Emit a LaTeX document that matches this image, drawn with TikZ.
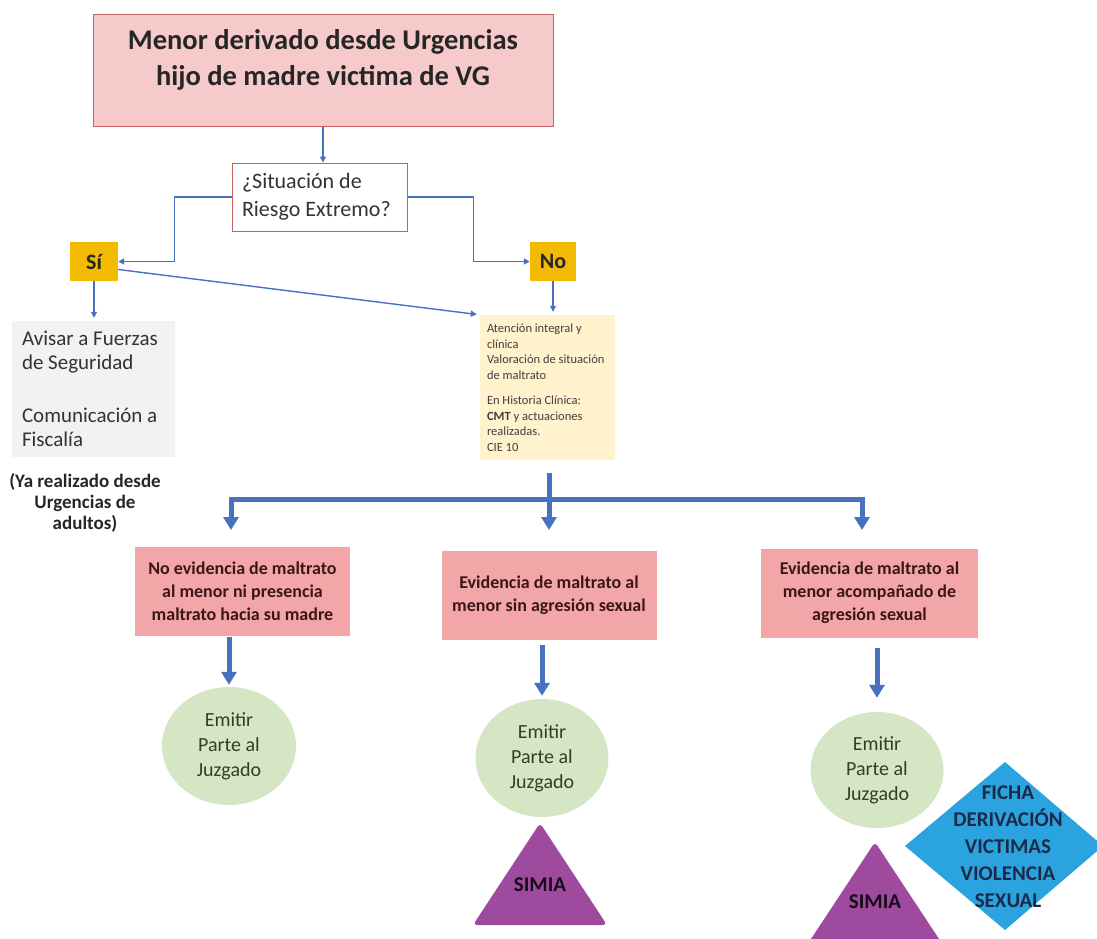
\documentclass[tikz,border=0pt]{standalone}
\usepackage{fontspec}
\setmainfont{Carlito}
\usepackage{tikz}
\usetikzlibrary{arrows.meta}
\usetikzlibrary{calc,shapes.geometric}
\usepackage{xcolor}
\definecolor{LinkBlue}{RGB}{70,114,192}
\definecolor{TitlePink}{RGB}{246,202,202}
\definecolor{TitleEdge}{RGB}{196,96,96}
\definecolor{CasePink}{RGB}{242,166,168}
\definecolor{AnswerAmber}{RGB}{242,186,0}
\definecolor{NoteGray}{RGB}{242,242,242}
\definecolor{CareYellow}{RGB}{255,242,204}
\definecolor{ResultGreen}{RGB}{212,230,196}
\definecolor{SimiaPurple}{RGB}{158,74,158}
\definecolor{FichaBlue}{RGB}{43,163,223}
\definecolor{CaseInk}{RGB}{60,22,22}
\definecolor{GreenInk}{RGB}{50,62,42}
\definecolor{NavyInk}{RGB}{28,42,74}
\tikzset{
	link/.style={LinkBlue, line width=1.4pt},
	thinarrow/.style={link, -{Triangle[length=6pt,width=6pt]}},
	bigline/.style={LinkBlue, line width=5pt},
	bigarrow/.style={bigline, -{Triangle[length=13pt,width=15pt]}},
	titlebox/.style={draw=TitleEdge, line width=1pt, fill=TitlePink, minimum width=460pt, minimum height=112pt},
	titletext/.style={align=center, text=black!85, font=\fontsize{28.5}{36}\selectfont\bfseries},
	askbox/.style={draw=TitleEdge, line width=1pt, fill=white, text width=155pt, inner xsep=10pt, minimum height=68pt, align=flush left, text=black!80, font=\fontsize{22}{28}\selectfont},
	answer/.style={fill=AnswerAmber, minimum width=48pt, minimum height=39pt, inner sep=0pt, text=black!85, font=\fontsize{22}{26}\selectfont\bfseries},
	notice/.style={fill=NoteGray, text width=143pt, inner xsep=10pt, minimum height=136pt, align=flush left, text=black!80, font=\fontsize{21}{23.5}\selectfont},
	remark/.style={align=center, text=black!85, font=\fontsize{19}{21}\selectfont\bfseries},
	care/.style={fill=CareYellow, text width=121pt, inner xsep=7pt, minimum height=145pt, align=flush left, text=black!75, font=\fontsize{12.5}{15.5}\selectfont},
	case/.style={fill=CasePink, minimum width=215pt, minimum height=89pt, align=center, text=CaseInk, font=\fontsize{18}{23}\selectfont\bfseries},
	result/.style={ellipse, fill=ResultGreen, minimum width=134pt, minimum height=118pt, inner sep=0pt, align=center, text=GreenInk, font=\fontsize{20}{25}\selectfont},
	simia/.style={fill=SimiaPurple, rounded corners=4pt},
	simiatext/.style={text=black!85!SimiaPurple, font=\fontsize{21}{24}\selectfont\bfseries},
	ficha/.style={fill=FichaBlue},
	fichatext/.style={align=center, text=NavyInk, font=\fontsize{21}{27}\selectfont\bfseries},
}

\begin{document}
\begin{tikzpicture}[x=1pt, y=-1pt]
	\useasboundingbox (0,0) rectangle (1097,939);
	\clip (0,0) rectangle (1097,939);
	
	% Title and question
	\node[titlebox] (title) at (323,71) {};
	\node[titletext] (titletxt) at (323,60) {Menor derivado desde Urgencias\\hijo de madre victima de VG};
	\node[askbox] (ask) at (319.5,197) {¿Situación de\\Riesgo Extremo?};
	\draw[thinarrow] (title.south) -- (title.south |- ask.north);
	
	% Si / No
	\node[answer] (si) at (94,261.5) {Sí};
	\node[answer, minimum width=46pt] (no) at (553,261.5) {No};
	\draw[thinarrow] (ask.west) -- ++(-57,0) |- (si.east);
	\draw[thinarrow] (ask.east) -- ++(66,0) |- (no.west);
	
	% Left branch: extreme risk
	\node[notice] (aviso) at (93.5,389) {Avisar a Fuerzas\\de Seguridad\\[30pt]Comunicación a\\Fiscalía};
	\node[remark] (nota) at (85,503) {(Ya realizado desde\\Urgencias de\\adultos)};
	\draw[thinarrow, shorten >=3pt] (si.south) -- (si.south |- aviso.north);
	
	% Clinical care box
	\node[care] (care) at (547.5,387.5) {Atención integral y\\clínica\\Valoración de situación\\de maltrato\\[10pt]En Historia Clínica:\\\textbf{CMT} y actuaciones\\realizadas.\\CIE 10};
	\draw[thinarrow, shorten >=3pt] (no.south) -- (no.south |- care.north);
	\draw[thinarrow, shorten >=3pt] ([yshift=-8pt]si.east) -- (care.north west);
	
	% Split into three cases
	\coordinate (split) at (549,499);
	\coordinate (b1) at (231,499);
	\coordinate (b3) at (862,499);
	\draw[bigline, shorten <=13pt] (split |- care.south) -- (split);
	\draw[bigarrow] (split) -- (b1) -- ++(0,31);
	\draw[bigarrow] (split) -- (b3) -- ++(0,31);
	\draw[bigarrow] (split) -- ++(0,31);
	
	\node[case] (case1) at (242.5,591.5) {No evidencia de maltrato\\al menor ni presencia\\maltrato hacia su madre};
	\node[case] (case2) at (549,595.5) {Evidencia de maltrato al\\menor sin agresión sexual};
	\node[case, minimum width=217pt] (case3) at (869.5,593) {Evidencia de maltrato al\\menor acompañado de\\agresión sexual};
	
	% Results
	\node[result] (res1) at (229,746) {Emitir\\Parte al\\Juzgado};
	\node[result, minimum width=133pt] (res2) at (542,758) {Emitir\\Parte al\\Juzgado};
	\node[result, minimum width=133pt, minimum height=116pt] (res3) at (877,770) {Emitir\\Parte al\\Juzgado};
	\draw[bigarrow, shorten <=1pt, shorten >=2pt] (case1.south -| res1.north) -- (res1.north);
	\draw[bigarrow, shorten <=5pt, shorten >=3pt] (case2.south -| res2.north) -- (res2.north);
	\draw[bigarrow, shorten <=10pt, shorten >=14pt] (case3.south -| res3.north) -- (res3.north);
	
	% SIMIA triangles and referral diamond
	\fill[simia] (540,823) -- (607,925) -- (473,925) -- cycle;
	\node[simiatext] (simia1) at (540,885) {SIMIA};
	\fill[simia] (875,842) -- (945,948) -- (805,948) -- cycle;
	\node[simiatext] (simia2) at (875,902) {SIMIA};
	\fill[ficha] (1005,762) -- (1103,846) -- (1005,930) -- (905,846) -- cycle;
	\node[fichatext] (ficha) at (1008,847) {FICHA\\DERIVACIÓN\\VICTIMAS\\VIOLENCIA\\SEXUAL};
	
\end{tikzpicture}
\end{document}
